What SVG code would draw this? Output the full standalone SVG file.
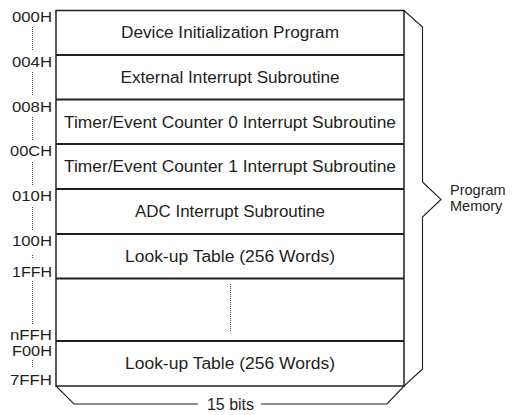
<svg xmlns="http://www.w3.org/2000/svg" width="515" height="415" viewBox="0 0 515 415">
<style>
text{font-family:"Liberation Sans",Arial,sans-serif;fill:#231f20}
.cell{font-size:16px;text-anchor:middle}
.addr{font-size:15.5px;text-anchor:end}
.box{fill:#fff;stroke:#231f20;stroke-width:1.5}
.div{stroke:#231f20;stroke-width:1.8}
.dot{stroke:#444;stroke-width:1;stroke-dasharray:1 1;fill:none}
.brace{fill:none;stroke:#231f20;stroke-width:1.1;stroke-linejoin:miter}
</style>
<rect width="515" height="415" fill="#fff"/>
<g id="memory-box">
<rect class="box" x="56" y="10.5" width="348" height="375.5"/>
<line class="div" x1="56" y1="55" x2="404" y2="55"/>
<line class="div" x1="56" y1="99.5" x2="404" y2="99.5"/>
<line class="div" x1="56" y1="144" x2="404" y2="144"/>
<line class="div" x1="56" y1="189" x2="404" y2="189"/>
<line class="div" x1="56" y1="234" x2="404" y2="234"/>
<line class="div" x1="56" y1="278.5" x2="404" y2="278.5"/>
<line class="div" x1="56" y1="341" x2="404" y2="341"/>
</g>
<g id="row-init"><text class="cell" x="230" y="38" textLength="218" lengthAdjust="spacingAndGlyphs">Device Initialization Program</text></g>
<g id="row-ext"><text class="cell" x="230" y="82.7" textLength="219" lengthAdjust="spacingAndGlyphs">External Interrupt Subroutine</text></g>
<g id="row-tec0"><text class="cell" x="230" y="127.5" textLength="332" lengthAdjust="spacingAndGlyphs">Timer/Event Counter 0 Interrupt Subroutine</text></g>
<g id="row-tec1"><text class="cell" x="230" y="172" textLength="332" lengthAdjust="spacingAndGlyphs">Timer/Event Counter 1 Interrupt Subroutine</text></g>
<g id="row-adc"><text class="cell" x="230" y="217" textLength="190" lengthAdjust="spacingAndGlyphs">ADC Interrupt Subroutine</text></g>
<g id="row-lut1"><text class="cell" x="230" y="261.7" textLength="210" lengthAdjust="spacingAndGlyphs">Look-up Table (256 Words)</text></g>
<g id="row-gap"><line class="dot" x1="230.5" y1="284" x2="230.5" y2="332"/></g>
<g id="row-lut2"><text class="cell" x="230" y="369" textLength="210" lengthAdjust="spacingAndGlyphs">Look-up Table (256 Words)</text></g>
<g id="addresses">
<text class="addr" x="52" y="22" textLength="40" lengthAdjust="spacingAndGlyphs">000H</text>
<text class="addr" x="52" y="66.7" textLength="40" lengthAdjust="spacingAndGlyphs">004H</text>
<text class="addr" x="52" y="111.5" textLength="40" lengthAdjust="spacingAndGlyphs">008H</text>
<text class="addr" x="52" y="156" textLength="42" lengthAdjust="spacingAndGlyphs">00CH</text>
<text class="addr" x="52" y="201" textLength="40" lengthAdjust="spacingAndGlyphs">010H</text>
<text class="addr" x="52" y="246" textLength="40" lengthAdjust="spacingAndGlyphs">100H</text>
<text class="addr" x="52" y="277" textLength="40" lengthAdjust="spacingAndGlyphs">1FFH</text>
<text class="addr" x="52" y="339.5" textLength="42" lengthAdjust="spacingAndGlyphs">nFFH</text>
<text class="addr" x="52" y="355.5" textLength="40" lengthAdjust="spacingAndGlyphs">F00H</text>
<text class="addr" x="52" y="385" textLength="42" lengthAdjust="spacingAndGlyphs">7FFH</text>
</g>
<g id="connectors">
<line class="dot" x1="32.5" y1="27" x2="32.5" y2="51"/>
<line class="dot" x1="32.5" y1="72" x2="32.5" y2="96"/>
<line class="dot" x1="32.5" y1="117" x2="32.5" y2="141"/>
<line class="dot" x1="32.5" y1="162" x2="32.5" y2="186"/>
<line class="dot" x1="32.5" y1="207" x2="32.5" y2="231"/>
<line class="dot" x1="32.5" y1="255" x2="32.5" y2="258"/>
<line class="dot" x1="32.5" y1="281" x2="32.5" y2="324"/>
<line class="dot" x1="32.5" y1="360" x2="32.5" y2="368"/>
<polyline class="brace" points="404,10.5 422.5,27 422.5,182 441,199.5 422.5,217 422.5,369 404,386"/>
<polyline class="brace" points="198,404 74,404 56,386"/>
<polyline class="brace" points="261,404 387,404 404,386"/>
</g>
<g id="labels">
<text x="450" y="194.5" font-size="14.5">Program</text>
<text x="450" y="210.5" font-size="14.5">Memory</text>
<text x="230.5" y="410" font-size="16" text-anchor="middle">15 bits</text>
</g>
</svg>
